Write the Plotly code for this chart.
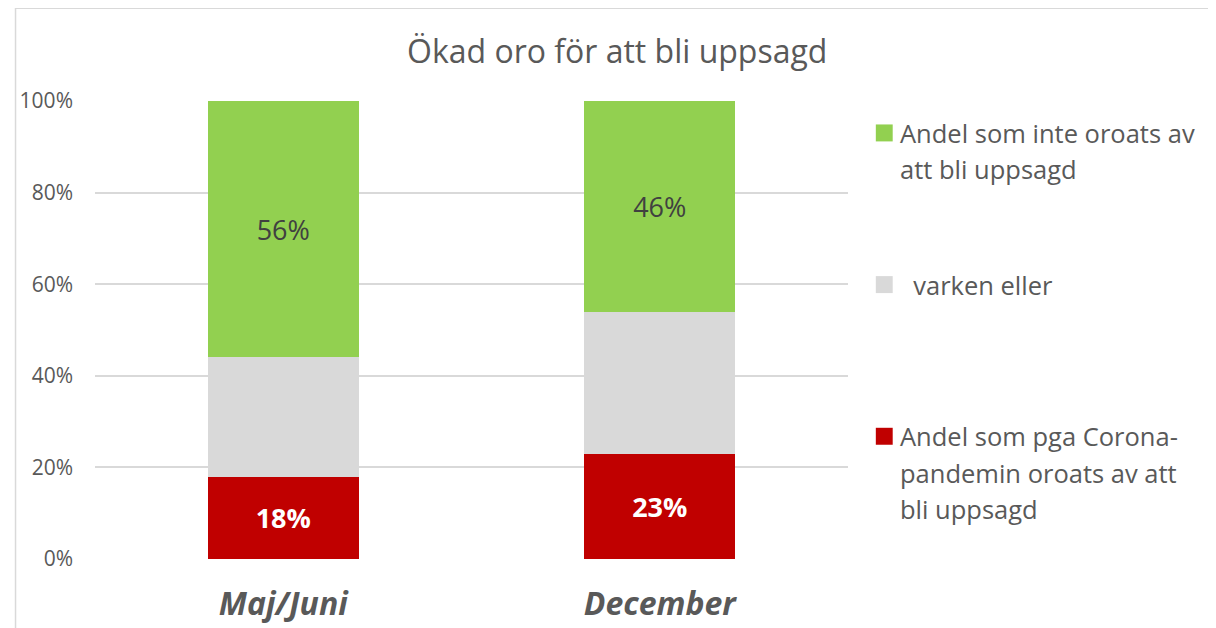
import plotly.graph_objects as go

categories = ["Maj/Juni", "December"]
oroade = [18, 23]          # Andel som pga Corona-pandemin oroats av att bli uppsagd
varken = [26, 31]          # varken eller
inte_oroade = [56, 46]     # Andel som inte oroats av att bli uppsagd
y_ticks = [0, 20, 40, 60, 80, 100]
y_tick_labels = ["0%", "20%", "40%", "60%", "80%", "100%"]

FONT = "Open Sans"

series = [
    dict(name="Andel som pga Corona-pandemin oroats av att bli uppsagd",
         lines=["Andel som pga Corona-", "pandemin oroats av att", "bli uppsagd"],
         values=oroade, color="#C00000", show_text=True,
         tfont=dict(color="white", size=27, family=FONT, weight="bold")),
    dict(name="varken eller", lines=["  varken eller"],
         values=varken, color="#D9D9D9", show_text=False, tfont=None),
    dict(name="Andel som inte oroats av att bli uppsagd",
         lines=["Andel som inte oroats av", "att bli uppsagd"],
         values=inte_oroade, color="#92D050", show_text=True,
         tfont=dict(color="#404040", size=27, family=FONT)),
]

# page has an 8px body margin: place things in reference pixels minus OFF
OFF = 8
W, H = 1216, 628
L, T = 90 - OFF, 101 - OFF
R = W - (848 - OFF)
B = H - (560 - OFF)
pw, ph = W - L - R, H - T - B

def px(x):
    return (x - OFF - L) / pw

def py(y):
    return (H - B - (y - OFF)) / ph

fig = go.Figure()
for s in series:
    fig.add_trace(go.Bar(
        x=categories, y=s["values"], name=s["name"],
        marker=dict(color=s["color"], line=dict(width=0)),
        text=[f"{v}%" for v in s["values"]] if s["show_text"] else None,
        textposition="inside", insidetextanchor="middle",
        textfont=s["tfont"], showlegend=False, hoverinfo="skip",
    ))

annotations = []
shapes = []
# manual legend (top: green, middle: grey, bottom: red)
legend_rows = [(series[2], 133), (series[1], 285), (series[0], 437)]
for s, y0 in legend_rows:
    shapes.append(dict(type="rect", xref="paper", yref="paper",
                       x0=px(876), x1=px(893), y0=py(y0 - 8.5), y1=py(y0 + 8.5),
                       fillcolor=s["color"], line=dict(width=0)))
    for i, line in enumerate(s["lines"]):
        annotations.append(dict(text=line, xref="paper", yref="paper",
                                x=px(898), y=py(y0 + i * 36.5), xanchor="left", yanchor="middle",
                                showarrow=False,
                                font=dict(family=FONT, size=25.5, color="#595959")))

# title
annotations.append(dict(text="Ökad oro för att bli uppsagd", xref="paper", yref="paper",
                        x=px(615), y=py(50), xanchor="center", yanchor="middle", showarrow=False,
                        font=dict(family=FONT, size=32, color="#595959")))

# chart border
shapes.append(dict(type="rect", xref="paper", yref="paper",
                   x0=px(10), x1=px(1240), y0=py(680), y1=py(8),
                   line=dict(color="#D9D9D9", width=1.5), fillcolor="rgba(0,0,0,0)", layer="below"))

fig.update_layout(
    barmode="stack", bargap=0.6,
    width=W, height=H,
    margin=dict(l=L, r=R, t=T, b=B, pad=0),
    paper_bgcolor="white", plot_bgcolor="white",
    font=dict(family=FONT, color="#595959"),
    xaxis=dict(showgrid=False, showline=False, ticks="", ticklabelstandoff=23,
               tickfont=dict(size=32, family=FONT, color="#595959", weight="bold", style="italic")),
    yaxis=dict(range=[0, 100], tickvals=y_ticks, ticktext=y_tick_labels,
               showgrid=True, gridcolor="#D9D9D9", gridwidth=1.5, zeroline=False,
               showline=False, ticks="", ticklabelstandoff=21,
               tickfont=dict(size=21, family=FONT, color="#595959")),
    annotations=annotations, shapes=shapes,
)

fig.write_html("out.html")
